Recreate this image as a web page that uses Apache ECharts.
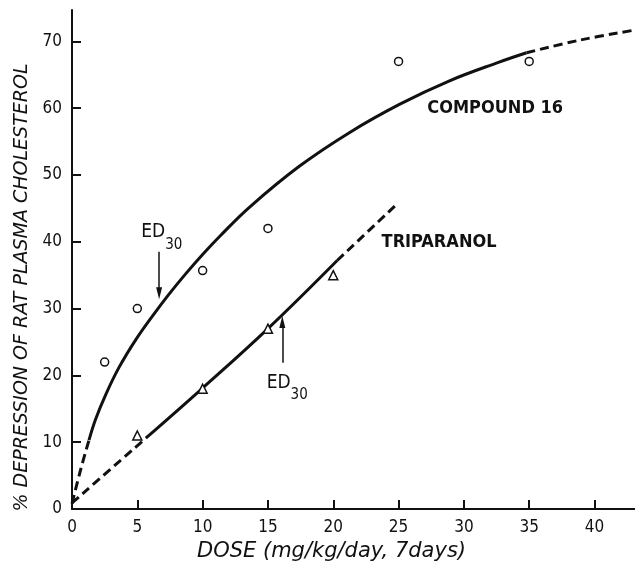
<!DOCTYPE html>
<html>
<head>
<meta charset="utf-8">
<script src="https://cdn.jsdelivr.net/npm/echarts@6/dist/echarts.min.js"></script>
<style>html,body{margin:0;padding:0;background:#fff}#c{width:635px;height:572px}</style>
</head>
<body>
<div id="c"></div>
<script>
// ---- data ----
var xTicks = [0, 5, 10, 15, 20, 25, 30, 35, 40];
var yTicks = [0, 10, 20, 30, 40, 50, 60, 70];

var compoundObsX = [2.5, 5, 10, 15, 25, 35];
var compoundObsY = [22, 30, 35.7, 42, 67, 67];
var triparanolObsX = [5, 10, 15, 20];
var triparanolObsY = [11, 18, 27, 35];

// fitted curves
var compoundLowX = [0, 0.65, 1.3];
var compoundLowY = [0.8, 5.8, 10.3];
var compoundMidX = [1.3, 1.8, 2.6, 3.6, 4.9, 6.2, 7.4, 8.7, 10, 11.3, 13.6, 17.4, 21.2, 25.1, 28.9, 32.7, 34.8];
var compoundMidY = [10.3, 13.4, 17.2, 21.2, 25.4, 29.0, 32.1, 35.2, 38.1, 40.8, 45.2, 51.3, 56.3, 60.6, 64.1, 66.9, 68.3];
var compoundHighX = [34.8, 38.9, 43.1];
var compoundHighY = [68.3, 70.2, 71.7];

var triparanolLowX = [0, 5.65];
var triparanolLowY = [0.9, 10.6];
var triparanolMidX = [5.65, 10, 15, 20.3];
var triparanolMidY = [10.6, 18.1, 27.0, 37.2];
var triparanolHighX = [20.3, 24.8];
var triparanolHighY = [37.2, 45.5];

function zip(xs, ys) { return xs.map(function (x, i) { return [x, ys[i]]; }); }

var FONT = '"DejaVu Sans Condensed", "DejaVu Sans", sans-serif';
var FONT_W = '"DejaVu Sans", sans-serif';
var INK = '#111';
var DASH = [9, 5];

var chart = echarts.init(document.getElementById('c'), null, {renderer: 'canvas'});

function lineSeries(name, xs, ys, dashed) {
  return {
    name: name, type: 'line', data: zip(xs, ys), smooth: 0.4,
    showSymbol: false, symbol: 'none', silent: true, animation: false,
    lineStyle: {color: INK, width: 3, type: dashed ? DASH : 'solid', cap: 'butt'},
    z: 2
  };
}

chart.setOption({
  animation: false,
  backgroundColor: '#fff',
  grid: {left: 72, right: 0, top: 10, bottom: 63},
  xAxis: {
    type: 'value', min: 0, max: 43.1,
    name: 'DOSE (mg/kg/day, 7days)', nameLocation: 'middle', nameGap: 32,
    nameTextStyle: {fontFamily: FONT_W, fontStyle: 'italic', fontSize: 21, color: INK, padding: [0, 44, 0, 0]},
    axisLine: {show: true, onZero: false, lineStyle: {color: INK, width: 2}},
    axisTick: {show: true, inside: true, length: 9, lineStyle: {color: INK, width: 2}, customValues: xTicks},
    axisLabel: {color: INK, fontFamily: FONT, fontSize: 17, margin: 10, customValues: xTicks},
    splitLine: {show: false}
  },
  yAxis: {
    type: 'value', min: 0, max: 74.7,
    name: '% DEPRESSION OF RAT PLASMA CHOLESTEROL', nameLocation: 'middle', nameGap: 28,
    nameTextStyle: {fontFamily: FONT_W, fontStyle: 'italic', fontSize: 19, color: INK, padding: [0, 56, 0, 0]},
    axisLine: {show: true, onZero: false, lineStyle: {color: INK, width: 2}},
    axisTick: {show: true, inside: true, length: 9, lineStyle: {color: INK, width: 2}, customValues: yTicks},
    axisLabel: {color: INK, fontFamily: FONT, fontSize: 17, margin: 10, customValues: yTicks},
    splitLine: {show: false}
  },
  series: [
    lineSeries('Compound 16 fit (extrapolated low)', compoundLowX, compoundLowY, true),
    Object.assign(lineSeries('Compound 16 fit', compoundMidX, compoundMidY, false), {
      markLine: {
        silent: true, animation: false, symbol: ['none', 'triangle'], symbolSize: 10,
        label: {show: false},
        lineStyle: {color: INK, width: 1.5, type: 'solid'},
        data: [
          [{coord: [6.67, 38.5]}, {coord: [6.67, 32.3], symbolSize: [6, 12]}],
          [{coord: [16.1, 21.9]}, {coord: [16.1, 28.0], symbolSize: [6, 12]}]
        ]
      }
    }),
    lineSeries('Compound 16 fit (extrapolated high)', compoundHighX, compoundHighY, true),
    lineSeries('Triparanol fit (extrapolated low)', triparanolLowX, triparanolLowY, true),
    lineSeries('Triparanol fit', triparanolMidX, triparanolMidY, false),
    lineSeries('Triparanol fit (extrapolated high)', triparanolHighX, triparanolHighY, true),
    {
      name: 'Compound 16', type: 'scatter', data: zip(compoundObsX, compoundObsY),
      symbol: 'circle', symbolSize: 8, silent: true, z: 3,
      itemStyle: {color: '#fff', borderColor: INK, borderWidth: 1.5, opacity: 1}
    },
    {
      name: 'Triparanol', type: 'scatter', data: zip(triparanolObsX, triparanolObsY),
      symbol: 'triangle', symbolSize: 9, silent: true, z: 3,
      itemStyle: {color: '#fff', borderColor: INK, borderWidth: 1.5, opacity: 1}
    }
  ]
});

// ---- text annotations, placed in data coordinates ----
var notes = [
  {text: 'COMPOUND 16', x: 27.2, y: 60.0, rich: false},
  {text: 'TRIPARANOL', x: 23.7, y: 39.9, rich: false},
  {text: '{a|ED}{b|30}', x: 5.3, y: 40.6, rich: true},
  {text: '{a|ED}{b|30}', x: 14.9, y: 18.1, rich: true}
];
var g = notes.map(function (n) {
  var p = chart.convertToPixel({gridIndex: 0}, [n.x, n.y]);
  var st = {
    text: n.text, x: p[0], y: p[1], align: 'left', verticalAlign: 'middle',
    fill: INK, fontFamily: FONT, fontSize: 18, fontWeight: 'bold'
  };
  if (n.rich) {
    st.fontWeight = 'normal';
    st.rich = {
      a: {fontFamily: FONT, fontSize: 19, fill: INK, color: INK, verticalAlign: 'top', lineHeight: 22},
      b: {fontFamily: FONT, fontSize: 15, fill: INK, color: INK, verticalAlign: 'bottom', lineHeight: 30, padding: [8, 0, 0, 0]}
    };
  }
  return {type: 'text', silent: true, z: 10, style: st};
});
chart.setOption({graphic: g});
</script>
</body>
</html>
